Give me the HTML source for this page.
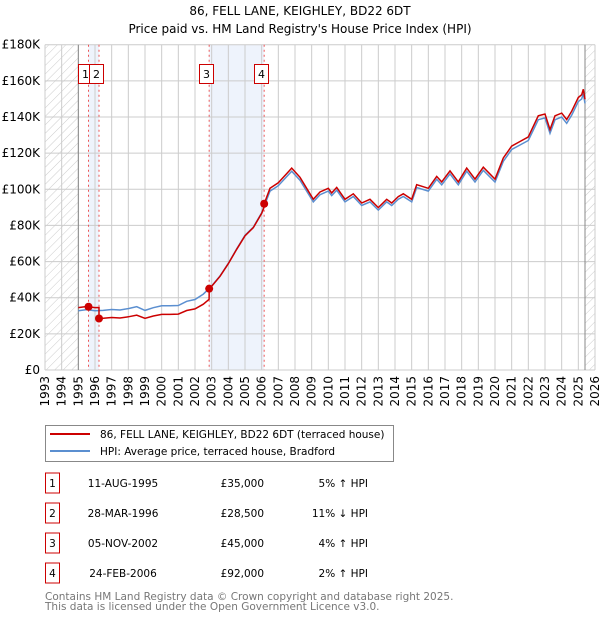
<!DOCTYPE html>
<html><head><meta charset="utf-8"><style>
body{margin:0;background:#fff;font-family:"DejaVu Sans","Liberation Sans",sans-serif;}
svg text{font-family:"DejaVu Sans","Liberation Sans",sans-serif;}
</style></head><body>
<svg id="c" width="600" height="620" xmlns="http://www.w3.org/2000/svg">
<defs><pattern id="hatch" width="6" height="6" patternUnits="userSpaceOnUse" patternTransform="rotate(45)"><line x1="0" y1="0" x2="0" y2="6" stroke="#ccc" stroke-width="1"/></pattern></defs>
<text x="300" y="15" font-size="12" text-anchor="middle">86, FELL LANE, KEIGHLEY, BD22 6DT</text>
<text x="300" y="33" font-size="12" text-anchor="middle">Price paid vs. HM Land Registry's House Price Index (HPI)</text>
<g id="plot"></g>
<g>
<rect x="45.5" y="425.5" width="348" height="36" fill="#fff" stroke="#888"/>
<line x1="50" y1="434" x2="90" y2="434" stroke="#cc0000" stroke-width="2"/>
<text x="100" y="438" font-size="10.5">86, FELL LANE, KEIGHLEY, BD22 6DT (terraced house)</text>
<line x1="50" y1="451" x2="90" y2="451" stroke="#5b8fd0" stroke-width="2"/>
<text x="100" y="455" font-size="10.5">HPI: Average price, terraced house, Bradford</text>
</g>
<g id="table" font-size="10.5"></g>
<text x="45" y="600" font-size="10.5" fill="#777">Contains HM Land Registry data © Crown copyright and database right 2025.</text>
<text x="45" y="610" font-size="10.5" fill="#777">This data is licensed under the Open Government Licence v3.0.</text>
</svg>
<script>
const hpiYears=[1995,1995.5,1996,1996.5,1997,1997.5,1998,1998.5,1999,1999.5,2000,2000.5,2001,2001.5,2002,2002.5,2003,2003.5,2004,2004.5,2005,2005.5,2006,2006.5,2007,2007.5,2007.8,2008.3,2009.1,2009.5,2010,2010.2,2010.5,2011,2011.5,2012,2012.5,2013,2013.5,2013.8,2014.2,2014.5,2015,2015.3,2016,2016.5,2016.8,2017.3,2017.8,2018.3,2018.8,2019.3,2020,2020.5,2021,2021.5,2022,2022.6,2023,2023.3,2023.6,2024,2024.3,2024.6,2025,2025.2,2025.3,2025.4];
const hpiValues=[32.8,33.4,32.8,33,33.5,33.2,34,35,33,34.5,35.5,35.5,35.7,38,39,42,46.5,52,59,67,74.5,79,87,99,102,107,110,105,93,97,99,96.5,99.5,93,96,91,93,88.5,93,91,94.5,96,93,101,99,105.5,102.5,108.5,102.5,110,104,110.5,104,115.5,122,124.5,127,138.5,139.5,131,138.5,140,136.5,141,148.5,150,153,147.5];
const saleLabels=["1","2","3","4"];
const saleDates=[1995.61,1996.24,2002.85,2006.15];
const salePrices=[35000,28500,45000,92000];
const saleDateText=["11-AUG-1995","28-MAR-1996","05-NOV-2002","24-FEB-2006"];
const salePriceText=["£35,000","£28,500","£45,000","£92,000"];
const saleHpiText=["5% ↑ HPI","11% ↓ HPI","4% ↑ HPI","2% ↑ HPI"];
const yTicks=[0,20,40,60,80,100,120,140,160,180];
const xTicks=[1993,1994,1995,1996,1997,1998,1999,2000,2001,2002,2003,2004,2005,2006,2007,2008,2009,2010,2011,2012,2013,2014,2015,2016,2017,2018,2019,2020,2021,2022,2023,2024,2025,2026];

const X0=45,X1=595,Y0=370,Y1=44.7;
const xs=y=>X0+(y-1993)/(2026-1993)*(X1-X0);
const ys=v=>Y0-v/180*(Y0-Y1);
const NS="http://www.w3.org/2000/svg";
const P=document.getElementById('plot');
function mk(t,a,p){const e=document.createElementNS(NS,t);for(const k in a)e.setAttribute(k,a[k]);(p||P).appendChild(e);return e;}
function hpiAt(t){for(let i=1;i<hpiYears.length;i++){if(t<=hpiYears[i]){const f=(t-hpiYears[i-1])/(hpiYears[i]-hpiYears[i-1]);return hpiValues[i-1]+f*(hpiValues[i]-hpiValues[i-1]);}}return hpiValues[hpiValues.length-1];}

let s1=mk('rect',{x:xs(saleDates[0]),y:Y1,width:xs(saleDates[1])-xs(saleDates[0]),height:Y0-Y1,fill:'#eef3fc'});

let s2=mk('rect',{x:xs(saleDates[2]),y:Y1,width:xs(saleDates[3])-xs(saleDates[2]),height:Y0-Y1,fill:'#eef3fc'});

let h1=mk('rect',{x:X0,y:Y1,width:xs(1995)-X0,height:Y0-Y1,fill:'url(#hatch)'});

let h2=mk('rect',{x:xs(2025.4),y:Y1,width:X1-xs(2025.4),height:Y0-Y1,fill:'url(#hatch)'});

yTicks.forEach(v=>{let l=mk('line',{x1:X0,x2:X1,y1:ys(v),y2:ys(v),stroke:'#ccc'});

let t=mk('text',{x:X0-5,y:ys(v)+4,'font-size':12,'text-anchor':'end'});t.textContent=v===0?'£0':'£'+v+'K';
});
xTicks.forEach(y=>{let l=mk('line',{x1:xs(y),x2:xs(y),y1:Y1,y2:Y0,stroke:'#ccc'});

let t=mk('text',{transform:`translate(${xs(y)+4},${Y0+6}) rotate(-90)`,'font-size':12,'text-anchor':'end'});t.textContent=y;
});
let vb1=mk('line',{x1:xs(1995),x2:xs(1995),y1:Y1,y2:Y0,stroke:'#888'});
let vb2=mk('line',{x1:xs(2025.4),x2:xs(2025.4),y1:Y1,y2:Y0,stroke:'#888'});
saleDates.forEach((d,i)=>{let l=mk('line',{x1:xs(d),x2:xs(d),y1:Y1,y2:Y0,stroke:'#e55','stroke-dasharray':'2,3'});
});
let hp=hpiYears.map((y,i)=>xs(y).toFixed(1)+','+ys(hpiValues[i]).toFixed(1)).join(' ');
let hl=mk('polyline',{points:hp,fill:'none',stroke:'#5b8fd0','stroke-width':1.5});

let pts=[];
hpiYears.forEach((y,i)=>{let k=0;for(let j=0;j<saleDates.length;j++)if(y>=saleDates[j])k=j;
  let f=salePrices[k]/1000/hpiAt(saleDates[k]);pts.push([y,hpiValues[i]*f]);});
saleDates.forEach((d,j)=>{if(j>0){let f=salePrices[j-1]/1000/hpiAt(saleDates[j-1]);pts.push([d-0.001,hpiAt(d)*f]);}pts.push([d,salePrices[j]/1000]);});
pts.sort((a,b)=>a[0]-b[0]);
let pl=mk('polyline',{points:pts.map(p=>xs(p[0]).toFixed(1)+','+ys(p[1]).toFixed(1)).join(' '),fill:'none',stroke:'#cc0000','stroke-width':1.5});

saleDates.forEach((d,i)=>{let c=mk('circle',{cx:xs(d),cy:ys(salePrices[i]/1000),r:4,fill:'#cc0000'});

let bx=Math.round(xs(d)-10.5);
let g=mk('g',{});
mk('rect',{x:bx+0.5,y:64.5,width:14,height:19,fill:'#fff',stroke:'#cc0000'},g);
let t=mk('text',{x:bx+7.5,y:78,'font-size':11,'text-anchor':'middle'},g);t.textContent=saleLabels[i];});
const T=document.getElementById('table');
saleLabels.forEach((lab,i)=>{let y=483+30*i;
let g=mk('g',{},T);
mk('rect',{x:45.5,y:y-10,width:14,height:20,fill:'#fff',stroke:'#cc0000'},g);
let a=mk('text',{x:52.5,y:y+4,'text-anchor':'middle'},g);a.textContent=lab;
let b=mk('text',{x:123,y:y+4,'text-anchor':'middle'},g);b.textContent=saleDateText[i];
let c=mk('text',{x:264,y:y+4,'text-anchor':'end'},g);c.textContent=salePriceText[i];
let d=mk('text',{x:368,y:y+4,'text-anchor':'end'},g);d.textContent=saleHpiText[i];});
</script>
</body></html>
